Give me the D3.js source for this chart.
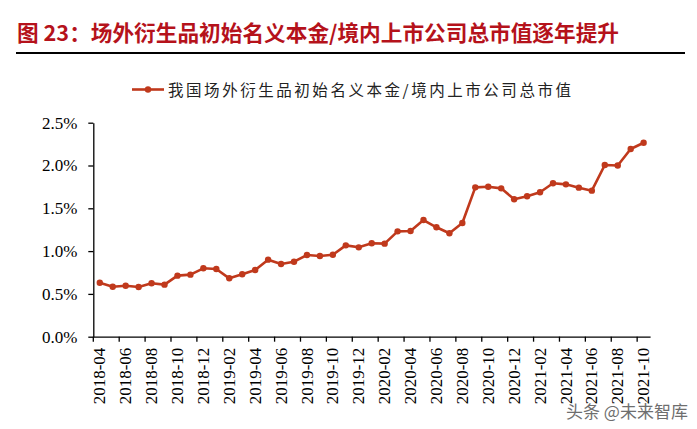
<!DOCTYPE html>
<html><head><meta charset="utf-8">
<script src="https://cdn.jsdelivr.net/npm/d3@7"></script>
<style>
body{margin:0;background:#fff;}
svg{display:block;}
</style></head>
<body>
<svg id="c" width="697" height="429"></svg>
<script>
const months = ["2018-04","2018-05","2018-06","2018-07","2018-08","2018-09","2018-10","2018-11","2018-12","2019-01","2019-02","2019-03","2019-04","2019-05","2019-06","2019-07","2019-08","2019-09","2019-10","2019-11","2019-12","2020-01","2020-02","2020-03","2020-04","2020-05","2020-06","2020-07","2020-08","2020-09","2020-10","2020-11","2020-12","2021-01","2021-02","2021-03","2021-04","2021-05","2021-06","2021-07","2021-08","2021-09","2021-10"];
const ratio = [0.63,0.584,0.596,0.581,0.624,0.608,0.713,0.725,0.799,0.791,0.682,0.729,0.779,0.900,0.849,0.876,0.954,0.943,0.958,1.067,1.044,1.091,1.087,1.231,1.235,1.363,1.278,1.208,1.328,1.745,1.752,1.733,1.605,1.640,1.687,1.792,1.780,1.741,1.706,2.006,2.000,2.193,2.266];
const yTicks = [0,0.5,1.0,1.5,2.0,2.5];
const titleText = "图 23：场外衍生品初始名义本金/境内上市公司总市值逐年提升";
const seriesName = "我国场外衍生品初始名义本金/境内上市公司总市值";

const svg = d3.select("#c");
const color = "#c0391c";
const L = 93.3, R = 650.1, T = 122.7, B = 336.7;

// title
svg.append("text").attr("x",17).attr("y",41)
  .attr("font-family","'Noto Sans CJK SC','Noto Sans',sans-serif")
  .attr("font-weight","bold").attr("font-size",21.5).attr("fill","#b5121b")
  .attr("textLength",602).attr("lengthAdjust","spacingAndGlyphs")
  .text(titleText);
svg.append("line").attr("x1",16).attr("x2",685).attr("y1",53).attr("y2",53)
  .attr("stroke","#000").attr("stroke-width",2);

const x = d3.scaleBand().domain(months).range([L,R]).padding(0);
const y = d3.scaleLinear().domain([0,2.5]).range([B,T]);
const bw = x.bandwidth();

// y axis
const ya = svg.append("g").attr("transform",`translate(${L},0)`)
  .call(d3.axisLeft(y).tickValues(yTicks).tickFormat(d=>d.toFixed(1)+"%").tickSize(5).tickSizeOuter(0).tickPadding(11));
ya.select(".domain").attr("stroke","#000").attr("stroke-width",1.3);
ya.selectAll(".tick line").attr("stroke","#000").attr("stroke-width",1.3);
ya.selectAll("text").attr("font-family","'Liberation Serif','Times New Roman',serif").attr("font-size",17).attr("fill","#000");

// x axis
const xTickVals = months.filter((d,i)=>i%2===0);
const xa = svg.append("g").attr("transform",`translate(0,${B})`)
  .call(d3.axisBottom(x).tickValues(xTickVals).tickSize(5).tickSizeOuter(0));
xa.select(".domain").attr("stroke","#000").attr("stroke-width",1.3);
xa.selectAll(".tick line").attr("stroke","#000").attr("stroke-width",1.3)
  .attr("transform",`translate(${-bw/2},0)`);
xa.selectAll(".tick text")
  .attr("font-family","'Liberation Serif','Times New Roman',serif").attr("font-size",17).attr("fill","#000")
  .attr("transform","rotate(-90)").attr("text-anchor","end")
  .attr("x",-11).attr("y",0).attr("dy","0.33em");

// line
const cx = d => x(d) + bw/2;
const data = months.map((m,i)=>({m, v: ratio[i]}));
svg.append("path").datum(data)
  .attr("fill","none").attr("stroke",color).attr("stroke-width",2.6).attr("stroke-linejoin","round")
  .attr("d", d3.line().x(d=>cx(d.m)).y(d=>y(d.v)));
svg.append("g").selectAll("circle").data(data).join("circle")
  .attr("cx",d=>cx(d.m)).attr("cy",d=>y(d.v)).attr("r",3.2).attr("fill",color);

// legend
svg.append("line").attr("x1",132).attr("x2",164).attr("y1",89.5).attr("y2",89.5)
  .attr("stroke",color).attr("stroke-width",2.6);
svg.append("circle").attr("cx",148).attr("cy",89.5).attr("r",3.2).attr("fill",color);
svg.append("text").attr("x",168).attr("y",95.5)
  .attr("font-family","'Noto Sans CJK SC',sans-serif").attr("font-size",15.5).attr("fill","#222")
  .attr("textLength",403).attr("lengthAdjust","spacing")
  .text(seriesName);

// watermark
svg.append("text").attr("x",566).attr("y",418)
  .attr("font-family","'Noto Sans CJK SC',sans-serif").attr("font-size",17).attr("fill","#555")
  .attr("stroke","#fff").attr("stroke-width",2.5).attr("paint-order","stroke").attr("opacity",0.85)
  .text("头条 @未来智库");
</script>
</body></html>
